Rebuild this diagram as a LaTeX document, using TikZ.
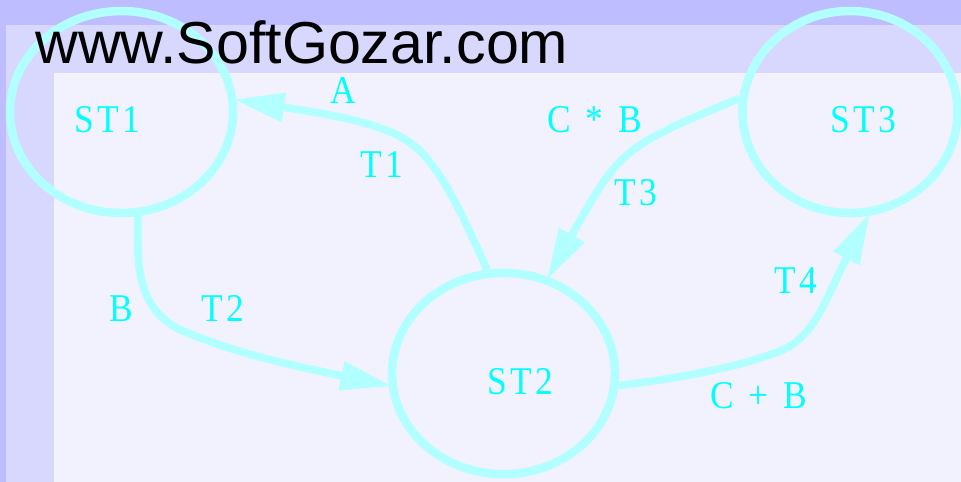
\documentclass[tikz,border=0pt]{standalone}
\usepackage{fontspec}
\setmainfont{Liberation Serif}[FakeStretch=0.9,LetterSpace=9,WordSpace=1.2]
\newfontfamily\wmfont{Liberation Sans}
\usetikzlibrary{shapes.geometric,arrows.meta}
\definecolor{bgouter}{HTML}{BDBDFF}
\definecolor{bgmid}{HTML}{D8D8FF}
\definecolor{bginner}{HTML}{F2F2FF}
\definecolor{ink}{HTML}{B2FFFF}
\definecolor{labelcol}{HTML}{00FFFF}
\tikzset{
  statering/.style={ellipse,draw=ink,line width=6.4pt,inner sep=0pt,minimum width=#1},
  edgeline/.style={draw=ink,line width=5.8pt,shorten >=-1.5pt,-{Triangle[length=37.5pt,width=22.5pt,line width=0pt,fill=ink]}},
  lbl/.style={anchor=base west,inner sep=0pt,outer sep=0pt,text=labelcol,font=\fontsize{29.5}{34}\selectfont},
  wm/.style={anchor=base west,inner sep=0pt,text=black,font=\wmfont\fontsize{44.4}{50}\selectfont}
}
\begin{document}
\begin{tikzpicture}[x=0.75pt,y=-0.75pt]
\useasboundingbox (0,0) rectangle (961,482);
\fill[bgouter] (0,0) rectangle (961,482);
\fill[bgmid] (6,25) rectangle (961,482);
\fill[bginner] (54,73) rectangle (961,482);
\node[statering=167.25pt,minimum height=151.5pt] (st1) at (121.5,112) {};
\node[statering=161.25pt,minimum height=151.5pt] (st3) at (850,112) {};
\node[statering=167.25pt,minimum height=151pt] (st2) at (503.5,373.5) {};
\node[lbl] (t-st1) at (74,132.5) {ST1};
\node[lbl] (t-st3) at (830.5,132.5) {ST3};
\node[lbl] (t-st2) at (487,394) {ST2};
\node[lbl] (t-a) at (330,103) {A};
\node[lbl] (t-t1) at (360,177) {T1};
\node[lbl] (t-cb) at (547.5,132.5) {C * B};
\node[lbl] (t-t3) at (614,205) {T3};
\node[lbl] (t-t4) at (774,293) {T4};
\node[lbl] (t-b) at (109,321) {B};
\node[lbl] (t-t2) at (201,321) {T2};
\node[lbl] (t-cpb) at (710,408) {C + B};
\draw[edgeline] (st2.99) .. controls (465,220) and (440,165) .. (413,145) .. controls (385,122) and (320,113) .. (st1.6);
\draw[edgeline] (st1.-81) .. controls (137,260) and (135,310) .. (183,331) .. controls (240,355) and (300,367) .. (st2.186.5);
\draw[edgeline] (st3.173) .. controls (700,115) and (660,130) .. (633,150) .. controls (610,168) and (597,190) .. (st2.65);
\draw[edgeline] (st2.-6.5) .. controls (680,378) and (740,367) .. (780,351) .. controls (815,337) and (825,300) .. (st3.-80);
\node[wm] (mark) at (35,63) {www.SoftGozar.com};
\end{tikzpicture}
\end{document}
